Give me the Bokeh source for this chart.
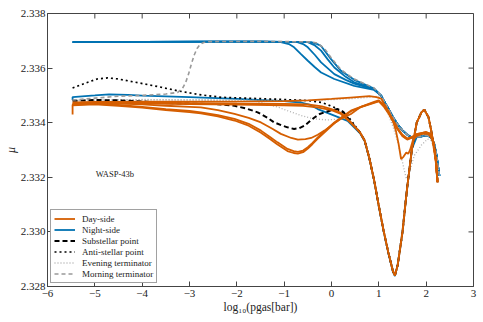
from bokeh.plotting import figure
from bokeh.models import (Legend, LegendItem, Label, FixedTicker,
                          PrintfTickFormatter, CustomJSTickFormatter, Range1d)
from bokeh.embed import file_html
from bokeh.resources import INLINE

ORANGE = "#d55e00"
BLUE = "#0072b2"
SERIF = "Liberation Serif"

X_TICKS = [-6, -5, -4, -3, -2, -1, 0, 1, 2, 3]
Y_TICKS = [2.328, 2.330, 2.332, 2.334, 2.336, 2.338]

# ---- shared segments (log10 p, mu) ----
DIP_X = [0.6, 0.7, 0.8, 0.9, 1.0, 1.1, 1.2, 1.3, 1.34, 1.4, 1.5, 1.6, 1.7, 1.8, 1.9, 1.96, 2.05, 2.1, 2.17, 2.21, 2.24]
DIP_Y = [2.33365, 2.33335, 2.33270, 2.33190, 2.33095, 2.33005, 2.32925, 2.32855, 2.32840, 2.32880, 2.33000, 2.33165, 2.33305, 2.33400, 2.33438, 2.33448, 2.33420, 2.33377, 2.33310, 2.33255, 2.33182]

HIGH_X = [1.05, 1.1, 1.2, 1.3, 1.4, 1.5, 1.6, 1.7, 1.8, 1.9, 2.0, 2.1, 2.17, 2.22, 2.28]
HIGH_Y = [2.33499, 2.33482, 2.33452, 2.33420, 2.33393, 2.33372, 2.33356, 2.33346, 2.33347, 2.33350, 2.33354, 2.33348, 2.33322, 2.33280, 2.33205]

TOP_X = [-5.47, -4.0, -2.5, -1.5]
TOP_Y = [2.33695, 2.33696, 2.33697, 2.33697]

# ---- Night-side ----
N1_X = TOP_X + [-1.07, -0.9, -0.79, -0.65, -0.5, -0.35, -0.22, 0.06, 0.48, 0.9] + HIGH_X
N1_Y = TOP_Y + [2.33695, 2.33688, 2.33676, 2.33652, 2.33627, 2.33603, 2.33584, 2.33560, 2.33535, 2.33520] + HIGH_Y
N2_X = TOP_X + [-0.72, -0.6, -0.5, -0.35, -0.22, 0.06, 0.3, 0.48, 0.9] + HIGH_X
N2_Y = TOP_Y + [2.33695, 2.33688, 2.33676, 2.33648, 2.33621, 2.33578, 2.33557, 2.33543, 2.33522] + HIGH_Y
N3_X = TOP_X + [-0.5, -0.35, -0.22, -0.08, 0.06, 0.3, 0.48, 0.9] + HIGH_X
N3_Y = TOP_Y + [2.33695, 2.33683, 2.33664, 2.33632, 2.33602, 2.33568, 2.33548, 2.33524] + HIGH_Y
N4_X = TOP_X + [-0.43, -0.3, -0.22, -0.01, 0.2, 0.48, 0.9] + HIGH_X
N4_Y = TOP_Y + [2.33695, 2.33688, 2.33681, 2.33633, 2.33590, 2.33557, 2.33525] + HIGH_Y
N5_X = [-5.47, -5.47, -5.0, -4.7, -4.3, -4.0, -3.0, -2.0, -1.0, -0.64, -0.45, -0.29, 0.06, 0.34,
        0.6, 0.7, 0.8, 0.9, 1.0, 1.1, 1.2, 1.3, 1.34, 1.4, 1.5, 1.6, 1.7,
        1.8, 1.9, 2.0, 2.1, 2.17, 2.22, 2.28]
N5_Y = [2.33483, 2.33494, 2.33500, 2.33504, 2.33502, 2.33499, 2.33494, 2.33487, 2.33479, 2.33474, 2.33465, 2.33450, 2.33426, 2.33407,
        2.33362, 2.33333, 2.33268, 2.33188, 2.33093, 2.33003, 2.32923, 2.32853, 2.32838, 2.32880, 2.33000, 2.33165, 2.33305,
        2.33347, 2.33350, 2.33354, 2.33346, 2.33320, 2.33278, 2.33205]

# ---- Sub-/anti-stellar points ----
SS_X = [-5.47, -5.0, -4.5, -4.0, -3.5, -3.0, -2.4, -2.05, -1.8, -1.56, -1.35, -1.21, -1.05, -0.93, -0.79, -0.68,
        -0.57, -0.46, -0.36, -0.25, -0.15, 0.0, 0.13, 0.25, 0.4] + DIP_X
SS_Y = [2.33480, 2.33483, 2.33482, 2.33478, 2.33472, 2.33470, 2.33468, 2.33462, 2.33452, 2.33438, 2.33418, 2.33401,
        2.33390, 2.33383, 2.33377, 2.33380, 2.33389, 2.33405, 2.33419, 2.33432, 2.33438, 2.33446, 2.33450, 2.33440,
        2.33405] + DIP_Y
AS_X = [-5.47, -5.2, -4.95, -4.73, -4.5, -4.2, -3.95, -3.6, -3.25, -2.8, -2.33, -1.5, -1.0, -0.5, -0.2, 0.06, 0.34] + DIP_X
AS_Y = [2.33527, 2.33545, 2.33560, 2.33564, 2.33560, 2.33550, 2.33542, 2.33530, 2.33517, 2.33503, 2.33493, 2.33488,
        2.33485, 2.33481, 2.33474, 2.33456, 2.33426] + DIP_Y

# ---- Terminators ----
EV1_X = [-5.47, -4.0, -2.5, -1.6, -1.35, -1.1, -0.93, -0.64, -0.36, -0.08, 0.2, 0.41, 0.62, 0.9,
         1.0, 1.1, 1.2, 1.3, 1.4, 1.5, 1.58, 1.65, 1.75, 1.9, 2.03, 2.1, 2.17, 2.22, 2.28]
EV1_Y = [2.33482, 2.33484, 2.33482, 2.33478, 2.33468, 2.33455, 2.33444, 2.33426, 2.33414, 2.33410, 2.33414, 2.33432,
         2.33456, 2.33476, 2.33483, 2.33462, 2.33430, 2.33385, 2.33330, 2.33255, 2.33194, 2.33220, 2.33280, 2.33318,
         2.33340, 2.33335, 2.33310, 2.33270, 2.33210]
EV2_X = [-5.47, -4.0, -2.5, -1.0, -0.3, 0.2, 0.6, 0.9] + HIGH_X
EV2_Y = [2.33482, 2.33485, 2.33484, 2.33482, 2.33482, 2.33486, 2.33490, 2.33495] + HIGH_Y
MT_X = [-5.47, -5.0, -4.5, -4.0, -3.5, -3.25, -3.15, -3.08, -3.02, -2.96, -2.9, -2.84, -2.78, -2.7, -2.6, -1.5,
        -0.43, -0.3, -0.15, 0.0, 0.2, 0.48, 0.9] + HIGH_X
MT_Y = [2.33483, 2.33490, 2.33497, 2.33500, 2.33505, 2.33511, 2.33525, 2.33548, 2.33578, 2.33615, 2.33648, 2.33672,
        2.33686, 2.33694, 2.33697, 2.33698, 2.33696, 2.33692, 2.33672, 2.33636, 2.33594, 2.33560, 2.33527] + HIGH_Y

# ---- Day-side ----
O1_X = [-5.47, -5.47, -5.0, -4.5, -4.0, -3.0, -2.0, -1.0, -0.6, -0.3, 0.0, 0.2, 0.4] + DIP_X
O1_Y = [2.33430, 2.33466, 2.33472, 2.33472, 2.33470, 2.33468, 2.33466, 2.33464, 2.33462, 2.33456, 2.33446, 2.33432, 2.33400] + DIP_Y
O2_X = [-5.47, -5.0, -4.5, -4.0, -3.0, -2.0, -1.0, -0.5, -0.2, 0.0, 0.2, 0.4] + DIP_X
O2_Y = [2.33472, 2.33476, 2.33476, 2.33474, 2.33472, 2.33470, 2.33469, 2.33467, 2.33460, 2.33450, 2.33436, 2.33404] + DIP_Y
O3_X = [-5.47, -4.0, -2.0, -1.0, -0.5, 0.0, 0.4, 0.8, 0.95,
        1.05, 1.1, 1.2, 1.3, 1.4, 1.5, 1.6, 1.7, 1.8, 1.9, 2.0, 2.08, 2.15, 2.2, 2.24]
O3_Y = [2.33474, 2.33477, 2.33477, 2.33479, 2.33482, 2.33487, 2.33492, 2.33497, 2.33494,
        2.33488, 2.33472, 2.33442, 2.33410, 2.33380, 2.33356, 2.33342, 2.33348, 2.33358, 2.33362, 2.33366, 2.33360,
        2.33330, 2.33270, 2.33185]
O4_X = [-5.47, -5.0, -4.5, -4.0, -3.5, -3.0, -2.76, -2.4, -2.05, -1.75, -1.49, -1.25, -1.07, -0.85, -0.71, -0.55,
        -0.43, -0.29, -0.15, 0.02, 0.2, 0.41, 0.62, 0.9,
        1.0, 1.1, 1.2, 1.3, 1.4, 1.5, 1.6, 1.7, 1.8, 1.9, 2.0, 2.08, 2.15, 2.2, 2.24]
O4_Y = [2.33468, 2.33472, 2.33470, 2.33467, 2.33462, 2.33458, 2.33456, 2.33446, 2.33432, 2.33418, 2.33401, 2.33378,
        2.33359, 2.33344, 2.33338, 2.33340, 2.33344, 2.33356, 2.33371, 2.33393, 2.33414, 2.33432, 2.33458, 2.33476,
        2.33482, 2.33466, 2.33438, 2.33405, 2.33376, 2.33352, 2.33340, 2.33346, 2.33356, 2.33360, 2.33363, 2.33358,
        2.33328, 2.33268, 2.33182]
O5_X = [-5.47, -5.0, -4.5, -4.0, -3.5, -3.0, -2.76, -2.4, -2.05, -1.75, -1.49, -1.3, -1.14, -0.93, -0.8, -0.71,
        -0.6, -0.5, -0.4, -0.29, -0.1, 0.06, 0.25, 0.41, 0.62, 0.9,
        1.0, 1.1, 1.2, 1.3, 1.36, 1.42, 1.47, 1.52, 1.58, 1.62, 1.66, 1.72, 1.8, 1.9, 1.96, 2.05, 2.13, 2.2, 2.24]
O5_Y = [2.33466, 2.33469, 2.33465, 2.33458, 2.33450, 2.33443, 2.33438, 2.33428, 2.33414, 2.33396, 2.33371, 2.33348,
        2.33328, 2.33304, 2.33296, 2.33293, 2.33298, 2.33310, 2.33326, 2.33346, 2.33376, 2.33401, 2.33425, 2.33444,
        2.33458, 2.33474, 2.33480, 2.33465, 2.33440, 2.33405, 2.33371, 2.33320, 2.33267, 2.33275, 2.33291, 2.33286,
        2.33300, 2.33336, 2.33352, 2.33358, 2.33360, 2.33358, 2.33340, 2.33262, 2.33182]
O6_X = [-5.47, -5.0, -4.5, -4.0, -3.5, -3.0, -2.76, -2.4, -2.05, -1.75, -1.49, -1.3, -1.14, -0.93, -0.8, -0.71,
        -0.6, -0.5, -0.4, -0.29, -0.1, 0.06, 0.25, 0.41, 0.62, 0.9,
        1.0, 1.1, 1.2, 1.3, 1.4, 1.5, 1.6, 1.7, 1.8, 1.9, 2.0, 2.08, 2.15, 2.2, 2.24]
O6_Y = [2.33464, 2.33467, 2.33462, 2.33455, 2.33446, 2.33439, 2.33434, 2.33423, 2.33408, 2.33389, 2.33363, 2.33340,
        2.33320, 2.33296, 2.33289, 2.33287, 2.33292, 2.33305, 2.33322, 2.33342, 2.33372, 2.33398, 2.33423, 2.33442,
        2.33457, 2.33473, 2.33478, 2.33460, 2.33435, 2.33405, 2.33375, 2.33350, 2.33338, 2.33345, 2.33358, 2.33362,
        2.33365, 2.33360, 2.33330, 2.33270, 2.33185]

X_MIN, X_MAX = -6, 3
Y_MIN, Y_MAX = 2.328, 2.338

p = figure(width=483, height=322, output_backend="svg", toolbar_location=None,
           x_range=Range1d(X_MIN, X_MAX), y_range=Range1d(Y_MIN, Y_MAX),
           min_border_left=46, min_border_right=10, min_border_top=13, min_border_bottom=36)
p.grid.visible = False
p.outline_line_color = "#444444"
p.background_fill_color = "white"

# draw night-side, points, terminators, then day-side on top
nr = [p.line(x, y, line_color=BLUE, line_width=1.8)
      for x, y in [(N1_X, N1_Y), (N2_X, N2_Y), (N3_X, N3_Y), (N4_X, N4_Y), (N5_X, N5_Y)]]
ev = [p.line(x, y, line_color="#b0b0b0", line_width=1.3, line_dash="1 2")
      for x, y in [(EV1_X, EV1_Y), (EV2_X, EV2_Y)]]
ss = p.line(SS_X, SS_Y, line_color="black", line_width=2, line_dash="5 3")
ast = p.line(AS_X, AS_Y, line_color="black", line_width=1.7, line_dash="2 3")
mt = p.line(MT_X, MT_Y, line_color="#999999", line_width=1.6, line_dash="4 3")
dr = [p.line(x, y, line_color=ORANGE, line_width=1.8)
      for x, y in [(O1_X, O1_Y), (O2_X, O2_Y), (O3_X, O3_Y), (O4_X, O4_Y), (O5_X, O5_Y), (O6_X, O6_Y)]]

# axes
AX = "#444444"
for ax in [p.xaxis[0], p.yaxis[0]]:
    ax.axis_line_color = AX
    ax.major_tick_line_color = AX
    ax.major_tick_in = 5
    ax.major_tick_out = 0
    ax.minor_tick_line_color = None
    ax.major_label_text_font = SERIF
    ax.major_label_text_font_size = "11px"
    ax.major_label_text_color = "#222222"
    ax.axis_label_text_font = SERIF
    ax.axis_label_text_color = "#222222"
p.xaxis[0].major_label_standoff = 3
p.yaxis[0].major_label_standoff = 2
p.xaxis[0].ticker = FixedTicker(ticks=X_TICKS)
p.xaxis[0].formatter = CustomJSTickFormatter(code="return tick < 0 ? '\u2212' + Math.abs(tick) : String(tick);")
p.yaxis[0].ticker = FixedTicker(ticks=Y_TICKS)
p.yaxis[0].formatter = PrintfTickFormatter(format="%.3f")

p.xaxis[0].axis_label = "log₁₀(pgas[bar])"
p.xaxis[0].axis_label_text_font_style = "normal"
p.xaxis[0].axis_label_text_font_size = "11.5px"
p.xaxis[0].axis_label_standoff = 1
p.yaxis[0].axis_label = "μ"
p.yaxis[0].axis_label_text_font_style = "italic"
p.yaxis[0].axis_label_text_font_size = "12px"
p.yaxis[0].axis_label_standoff = 0

# mirrored inward ticks on the top and right edges
TICK_DY = (Y_MAX - Y_MIN) * 5 / 273
TICK_DX = (X_MAX - X_MIN) * 5 / 427
p.segment(x0=X_TICKS, y0=[Y_MAX] * len(X_TICKS), x1=X_TICKS, y1=[Y_MAX - TICK_DY] * len(X_TICKS),
          line_color=AX, line_width=1)
p.segment(x0=[X_MAX] * len(Y_TICKS), y0=Y_TICKS, x1=[X_MAX - TICK_DX] * len(Y_TICKS), y1=Y_TICKS,
          line_color=AX, line_width=1)

p.add_layout(Label(x=-4.98, y=2.33212, text="WASP-43b", text_font=SERIF, text_font_size="8.5px",
                   text_color="#222222", text_baseline="middle", text_align="left"))

legend = Legend(items=[
    LegendItem(label="Day-side", renderers=[dr[0]]),
    LegendItem(label="Night-side", renderers=[nr[0]]),
    LegendItem(label="Substellar point", renderers=[ss]),
    LegendItem(label="Anti-stellar point", renderers=[ast]),
    LegendItem(label="Evening terminator", renderers=[ev[0]]),
    LegendItem(label="Morning terminator", renderers=[mt]),
], location="bottom_left")
legend.margin = 3
legend.padding = 3
legend.spacing = 0
legend.label_height = 11
legend.glyph_height = 11
legend.glyph_width = 21
legend.label_standoff = 7
legend.label_text_font = SERIF
legend.label_text_font_size = "9px"
legend.label_text_color = "#222222"
legend.border_line_color = "#444444"
legend.border_line_width = 1
legend.background_fill_alpha = 1.0
p.add_layout(legend)

open("out.html", "w").write(file_html(p, INLINE))
